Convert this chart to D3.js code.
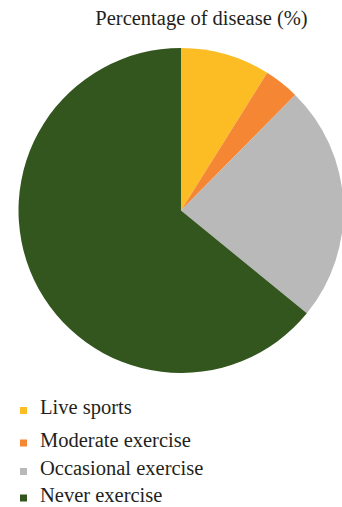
<!DOCTYPE html>
<html>
<head>
<meta charset="utf-8">
<script src="https://cdn.jsdelivr.net/npm/d3@7"></script>
<style>
  html, body { margin: 0; padding: 0; background: #fff; }
  svg { display: block; }
  text { font-family: "Liberation Serif", "DejaVu Serif", serif; fill: #231f20; }
</style>
</head>
<body>
<svg id="chart" width="342" height="507"></svg>
<script>
// Share of disease by exercise habit
const categories = ["Live sports", "Moderate exercise", "Occasional exercise", "Never exercise"];
const values = [8.9, 3.5, 23.5, 64.1];
const colors = ["#fbbd23", "#f58634", "#b9b9b9", "#33561f"];
const title = "Percentage of disease (%)";

const svg = d3.select("#chart");
const cx = 181, cy = 210.5, r = 162.5;

svg.append("text")
  .attr("x", 201.5).attr("y", 24.5)
  .attr("text-anchor", "middle")
  .attr("font-size", 20.5)
  .text(title);

const data = categories.map((c, i) => ({ name: c, value: values[i], color: colors[i] }));
const pie = d3.pie().value(d => d.value).sort(null);
const arc = d3.arc().innerRadius(0).outerRadius(r);

svg.append("g")
  .attr("transform", `translate(${cx},${cy})`)
  .selectAll("path")
  .data(pie(data))
  .join("path")
  .attr("d", arc)
  .attr("fill", d => d.data.color);

// Legend
const legendY = [414, 446.5, 475, 501.5];
const legend = svg.append("g")
  .selectAll("g")
  .data(data)
  .join("g")
  .attr("transform", (d, i) => `translate(0,${legendY[i]})`);

legend.append("rect")
  .attr("x", 20).attr("y", -7)
  .attr("width", 7).attr("height", 7)
  .attr("fill", d => d.color);

legend.append("text")
  .attr("x", 40).attr("y", 0)
  .attr("font-size", 20.5)
  .text(d => d.name);
</script>
</body>
</html>
